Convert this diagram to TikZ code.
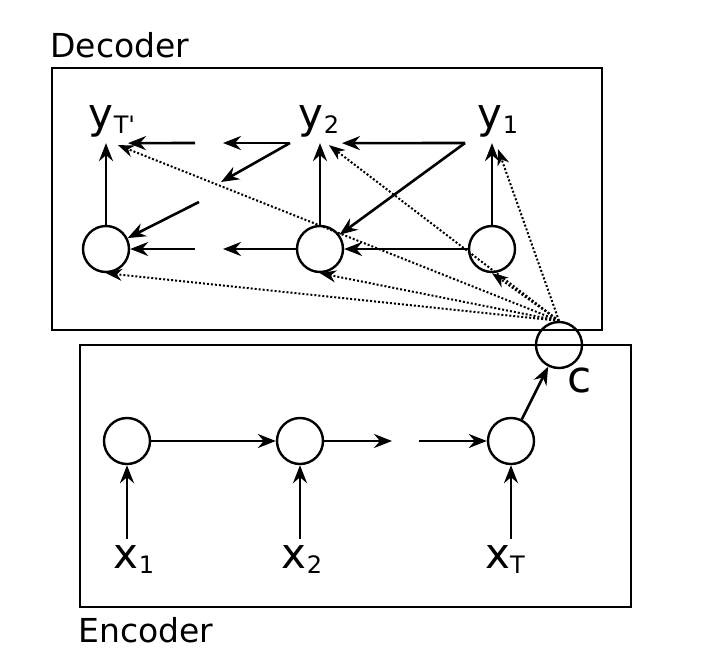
\documentclass[tikz,border=0pt]{standalone}
\usepackage{fontspec}
\setmainfont{DejaVu Sans}
\usetikzlibrary{arrows.meta}
\newcommand{\symb}[2]{{\fontsize{21}{21}\selectfont #1}\raisebox{-2.5pt}{\fontsize{12}{12}\selectfont #2}}
\begin{document}
\begin{tikzpicture}[x=0.5pt,y=-0.5pt,
  cell/.style={draw,circle,line width=1.2pt,minimum size=23pt,inner sep=0pt},
  arr/.style={-{Stealth[length=9pt,width=7pt,inset=3pt]},line width=1.3pt},
  att/.style={-{Stealth[length=8pt,width=6pt,inset=2.5pt]},line width=1pt,dash pattern=on 1pt off 1pt},
  box/.style={draw,line width=1.2pt},
  lab/.style={anchor=base,inner sep=3pt},
  word/.style={anchor=base west,inner sep=0pt,font=\fontsize{16.5}{16.5}\selectfont}]
\useasboundingbox (0,0) rectangle (706,664);

% boxes
\draw[box] (52,68) rectangle (602,330);
\draw[box] (80,345) rectangle (631,607);
\node[word] (dec) at (50,57) {Decoder};
\node[word] (enc) at (78,642) {Encoder};

% decoder
\node[cell] (dT) at (106,249) {};
\node[cell] (d2) at (320,249) {};
\node[cell] (d1) at (492,249) {};
\node[lab] (yT) at (112,128) {\symb{y}{T\textquotesingle}};
\node[lab] (y2) at (319,128) {\symb{y}{2}};
\node[lab] (y1) at (498,128) {\symb{y}{1}};

% encoder
\node[cell] (e1) at (127,441) {};
\node[cell] (e2) at (300,441) {};
\node[cell] (eT) at (511,441) {};
\node[lab] (x1) at (134,568) {\symb{x}{1}};
\node[lab] (x2) at (302,568) {\symb{x}{2}};
\node[lab] (xT) at (505,568) {\symb{x}{T}};

\node[cell] (c) at (559,345) {};
\node[inner sep=0pt,font=\fontsize{22}{22}\selectfont] (clab) at (580,380) {c};

% free ends
\coordinate (a1) at (465,143);
\coordinate (a2) at (290,143);
\coordinate (a3) at (223,143);
\coordinate (a4) at (195,143);
\coordinate (a5) at (221,182);
\coordinate (a6) at (199,202);
\coordinate (b1) at (223,249);
\coordinate (b2) at (195,249);
\coordinate (g1) at (392,441);
\coordinate (g2) at (419,441);

\draw[arr] (dT) -- (dT |- yT.south);
\draw[arr] (d2) -- (d2 |- y2.south);
\draw[arr] (d1) -- (d1 |- y1.south);
\draw[arr] (a1) -- ([xshift=11pt]d2 |- y2.south);
\draw[arr] (a1) -- (d2);
\draw[arr] (a2) -- (a3);
\draw[arr] (a2) -- (a5);
\draw[arr] (a4) -- ([xshift=11pt]dT |- yT.south);
\draw[arr] (a6) -- (dT);
\draw[arr] (d1) -- (d2);
\draw[arr] (d2) -- (b1);
\draw[arr] (b2) -- (dT);

\draw[arr] (x1.north -| e1) -- (e1);
\draw[arr] (x2.north -| e2) -- (e2);
\draw[arr] (xT.north -| eT) -- (eT);
\draw[arr] (e1) -- (e2);
\draw[arr] (e2) -- (g1);
\draw[arr] (g2) -- (eT);
\draw[arr] (eT) -- (c);

% attention
\draw[att] (c.north) -- ([xshift=3pt,yshift=-1pt]yT.south);
\draw[att] (c.north) -- ([xshift=5pt,yshift=-1pt]y2.south);
\draw[att] (c.north) -- ([yshift=-3pt]y1.south);
\draw[att] (c.north) -- (dT.south);
\draw[att] (c.north) -- (d2.south);
\draw[att] (c.north) -- (d1.south);
\end{tikzpicture}
\end{document}
